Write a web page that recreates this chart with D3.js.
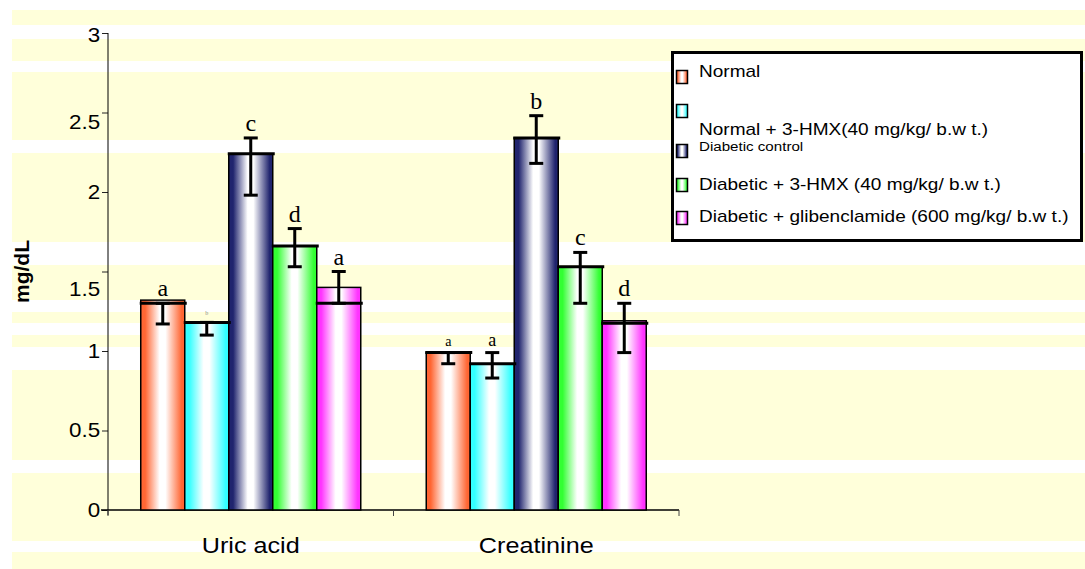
<!DOCTYPE html>
<html>
<head>
<meta charset="utf-8">
<script src="https://cdn.jsdelivr.net/npm/d3@7"></script>
<style>
    body { margin: 0; background: #fff; }
    svg { display: block; font-family: "Liberation Sans", Arial, sans-serif; }
</style>
</head>
<body>
<svg id="chart" width="1085" height="569"></svg>
<script>
// DATA
const categories = ['Uric acid', 'Creatinine'];
const seriesNames = [
    'Normal',
    'Normal + 3-HMX(40 mg/kg/ b.w t.)',
    'Diabetic control',
    'Diabetic + 3-HMX (40 mg/kg/ b.w t.)',
    'Diabetic + glibenclamide (600 mg/kg/ b.w t.)'
];
// bar heights, [uric acid, creatinine]
const normal = [1.32, 0.99];
const normalHmx = [1.18, 0.92];
const diabeticControl = [2.24, 2.34];
const diabeticHmx = [1.66, 1.53];
const diabeticGlib = [1.40, 1.19];
const barValues = [normal, normalHmx, diabeticControl, diabeticHmx, diabeticGlib];
// mean line drawn across each bar
const meanLine = [[1.30, 0.99], [1.18, 0.92], [2.24, 2.34], [1.66, 1.53], [1.30, 1.175]];
// error bar ends
const errHigh = [[1.30, 0.99], [1.18, 0.99], [2.34, 2.48], [1.77, 1.62], [1.50, 1.30]];
const errLow = [[1.17, 0.92], [1.10, 0.83], [1.98, 2.18], [1.53, 1.30], [1.30, 0.99]];
// significance letters
const letters = [['a', 'a'], ['b', 'a'], ['c', 'b'], ['d', 'c'], ['a', 'd']];
const yTicks = [0, 0.5, 1, 1.5, 2, 2.5, 3];

// STYLE
const colors = ['#FF6633', '#33FFFF', '#20246E', '#33FF33', '#FF33FF'];
const letterSize = [[24, 14], [6, 18], [24, 24], [24, 24], [24, 24]];
const SX = 1.12; // text in the source is slightly wide
const bgBands = [[10, 25], [39, 61], [72, 140], [153, 242], [265, 300], [312, 323],
    [335, 347], [370, 460], [473, 541], [552, 569]];

const svg = d3.select('#chart');

// BACKGROUND STRIPES
svg.append('g').selectAll('rect')
    .data(bgBands)
    .enter()
    .append('rect')
    .attr('x', 12)
    .attr('width', 1085 - 12)
    .attr('y', d => d[0])
    .attr('height', d => d[1] - d[0])
    .attr('fill', '#FFFFDA');

// GRADIENTS
const defs = svg.append('defs');
colors.forEach((c, i) => {
    const g = defs.append('linearGradient').attr('id', 'grad' + i);
    g.append('stop').attr('offset', '0%').attr('stop-color', c);
    g.append('stop').attr('offset', '10%').attr('stop-color', c);
    g.append('stop').attr('offset', '43%').attr('stop-color', '#fff');
    g.append('stop').attr('offset', '56%').attr('stop-color', '#fff');
    g.append('stop').attr('offset', '93%').attr('stop-color', c);
    g.append('stop').attr('offset', '100%').attr('stop-color', c);
});

// SCALES
const PLOT = { left: 108, right: 679, top: 33, bottom: 510 };
const xCat = d3.scaleBand()
    .domain(categories)
    .range([PLOT.left, PLOT.right])
    .paddingInner(0.2294)
    .paddingOuter(0.1147);
const xSer = d3.scaleBand()
    .domain(d3.range(seriesNames.length))
    .range([0, xCat.bandwidth()]);
const y = d3.scaleLinear().domain([0, 3]).range([PLOT.bottom, PLOT.top]);

// Y AXIS
const yAxis = svg.append('g')
    .attr('transform', `translate(${PLOT.left},0)`)
    .call(d3.axisLeft(y).tickValues(yTicks).tickSize(6).tickFormat(d3.format('~g')));
yAxis.select('.domain').remove();
yAxis.selectAll('line').attr('stroke', '#222');
yAxis.selectAll('text')
    .attr('font-family', '"Liberation Sans", Arial, sans-serif')
    .attr('font-size', 20)
    .attr('fill', '#000')
    .attr('x', -7)
    .attr('y', d => d === 2.5 ? 10 : d === 1.5 ? 18 : d === 3 ? 2 : 0)
    .attr('transform', `scale(${SX},1)`);
svg.append('line')
    .attr('x1', PLOT.left).attr('x2', PLOT.left)
    .attr('y1', y(3)).attr('y2', y(0) + 5)
    .attr('stroke', '#000');

// X AXIS
svg.append('line')
    .attr('x1', PLOT.left - 7).attr('x2', PLOT.right)
    .attr('y1', y(0)).attr('y2', y(0))
    .attr('stroke', '#000').attr('stroke-width', 1.5);
svg.append('g').selectAll('line')
    .data(d3.range(categories.length + 1))
    .enter()
    .append('line')
    .attr('x1', i => PLOT.left + i * xCat.step())
    .attr('x2', i => PLOT.left + i * xCat.step())
    .attr('y1', y(0)).attr('y2', y(0) + 6)
    .attr('stroke', '#444');
svg.append('g').selectAll('text')
    .data(categories)
    .enter()
    .append('text')
    .attr('transform', d => `translate(${xCat(d) + xCat.bandwidth() / 2},${y(0) + 43}) scale(${SX},1)`)
    .attr('text-anchor', 'middle')
    .attr('font-size', 22.5)
    .text(d => d);

// Y LABEL
svg.append('text')
    .attr('transform', `translate(29,${(y(0) + y(3)) / 2}) rotate(-90)`)
    .attr('text-anchor', 'middle')
    .attr('font-size', 21)
    .attr('font-weight', 'bold')
    .text('mg/dL');

// BARS
const cells = [];
barValues.forEach((vals, s) => {
    vals.forEach((v, c) => {
        cells.push({
            s, c, v,
            mean: meanLine[s][c], hi: errHigh[s][c], lo: errLow[s][c],
            letter: letters[s][c], size: letterSize[s][c]
        });
    });
});
const bx = d => xCat(categories[d.c]) + xSer(d.s);
const bw = xSer.bandwidth();

const bars = svg.append('g');
bars.selectAll('rect')
    .data(cells)
    .enter()
    .append('rect')
    .attr('x', bx)
    .attr('y', d => y(d.v))
    .attr('width', bw)
    .attr('height', d => y(0) - y(d.v))
    .attr('fill', d => `url(#grad${d.s})`)
    .attr('stroke', '#000')
    .attr('stroke-width', 1.5);

// mean lines
bars.selectAll('.mean')
    .data(cells)
    .enter()
    .append('line')
    .attr('class', 'mean')
    .attr('x1', d => bx(d) - 1)
    .attr('x2', d => bx(d) + bw + 2)
    .attr('y1', d => y(d.mean))
    .attr('y2', d => y(d.mean))
    .attr('stroke', '#000')
    .attr('stroke-width', 3);

// error bars
const err = bars.selectAll('.err')
    .data(cells)
    .enter()
    .append('g')
    .attr('class', 'err')
    .attr('transform', d => `translate(${bx(d) + bw / 2},0)`)
    .attr('stroke', '#000')
    .attr('stroke-width', 3);
err.append('line')
    .attr('y1', d => y(d.hi))
    .attr('y2', d => y(d.lo));
err.append('line')
    .attr('x1', -7).attr('x2', 7)
    .attr('y1', d => y(d.hi)).attr('y2', d => y(d.hi));
err.append('line')
    .attr('x1', -7).attr('x2', 7)
    .attr('y1', d => y(d.lo)).attr('y2', d => y(d.lo));

// letters
bars.selectAll('.letter')
    .data(cells)
    .enter()
    .append('text')
    .attr('class', 'letter')
    .attr('x', d => bx(d) + bw / 2)
    .attr('y', d => y(d.hi) - 7)
    .attr('text-anchor', 'middle')
    .attr('font-family', '"Liberation Serif", "Times New Roman", serif')
    .attr('font-size', d => d.size)
    .attr('fill', d => d.size < 10 ? '#888' : '#000')
    .text(d => d.letter);

// LEGEND
const legend = svg.append('g');
legend.append('rect')
    .attr('x', 672.5).attr('y', 52.5)
    .attr('width', 409).attr('height', 188)
    .attr('fill', '#fff')
    .attr('stroke', '#000')
    .attr('stroke-width', 3);
const legendRows = [
    { box: 70, base: 77, size: 17 },
    { box: 104, base: 135, size: 17 },
    { box: 144, base: 151, size: 13.5 },
    { box: 178, base: 190, size: 17 },
    { box: 211, base: 222, size: 17 }
];
const item = legend.selectAll('.item')
    .data(seriesNames)
    .enter()
    .append('g')
    .attr('class', 'item');
item.append('rect')
    .attr('x', 676.5)
    .attr('y', (d, i) => legendRows[i].box + 0.5)
    .attr('width', 11)
    .attr('height', 13)
    .attr('fill', (d, i) => `url(#grad${i})`)
    .attr('stroke', '#000')
    .attr('stroke-width', 1.5);
item.append('text')
    .attr('transform', (d, i) => `translate(699,${legendRows[i].base}) scale(${SX},1)`)
    .attr('font-size', (d, i) => legendRows[i].size)
    .text(d => d);
</script>
</body>
</html>
